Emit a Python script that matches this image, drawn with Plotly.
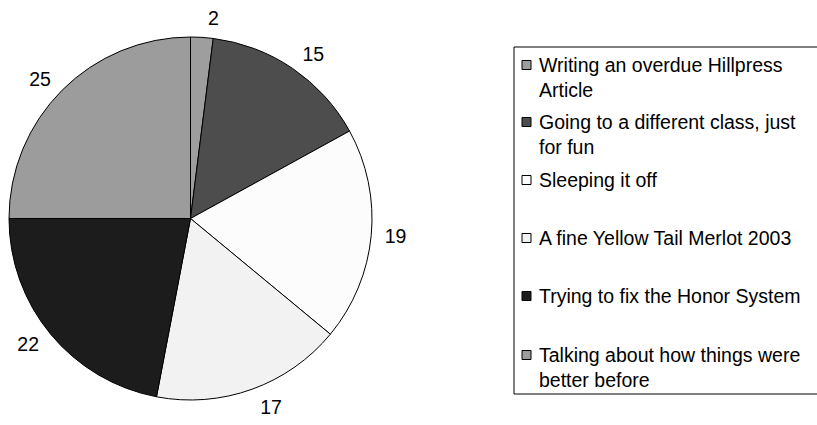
import plotly.graph_objects as go

labels = [
    "Writing an overdue Hillpress<br>Article",
    "Going to a different class, just<br>for fun",
    "Sleeping it off",
    "A fine Yellow Tail Merlot 2003",
    "Trying to fix the Honor System",
    "Talking about how things were<br>better before",
]
values = [2, 15, 19, 17, 22, 25]
colors = ["#9E9E9E", "#4D4D4D", "#FCFCFC", "#F2F2F2", "#1C1C1C", "#9C9C9C"]

W, H = 817, 425
FONT = "Liberation Sans, Arial, sans-serif"

fig = go.Figure()
# the visible pie
fig.add_trace(go.Pie(
    labels=labels, values=values, sort=False, direction="clockwise", rotation=0,
    marker=dict(colors=colors, line=dict(color="black", width=1)),
    textinfo="none",
    domain=dict(x=[8 / W, 373 / W], y=[25 / H, 388 / H]),
    showlegend=False, hoverinfo="label+value",
))
# a slightly larger, transparent pie that carries the value labels further out
fig.add_trace(go.Pie(
    labels=labels, values=values, sort=False, direction="clockwise", rotation=0,
    marker=dict(colors=["rgba(0,0,0,0)"] * len(values), line=dict(width=0)),
    textinfo="value", textposition="outside",
    textfont=dict(family=FONT, size=19.5, color="black"),
    domain=dict(x=[1 / W, 380 / W], y=[17 / H, 396 / H]),
    showlegend=False, hoverinfo="skip",
))

# manual legend box
lx0, ly0, lx1, ly1 = 514, 47, 830, 394
shapes = [dict(type="rect", xref="paper", yref="paper",
               x0=lx0 / W, x1=lx1 / W, y0=1 - ly1 / H, y1=1 - ly0 / H,
               line=dict(color="black", width=1), fillcolor="white", layer="below")]
annotations = []
item_y = [65, 122, 180, 238, 296, 355]
for lab, col, yc in zip(labels, colors, item_y):
    shapes.append(dict(type="rect", xref="paper", yref="paper",
                       x0=522 / W, x1=531 / W, y0=1 - (yc + 4.5) / H, y1=1 - (yc - 4.5) / H,
                       line=dict(color="black", width=1), fillcolor=col))
    annotations.append(dict(xref="paper", yref="paper", x=537 / W, y=1 - (yc - 13) / H,
                            xanchor="left", yanchor="top", align="left", showarrow=False,
                            text=lab, font=dict(family=FONT, size=19.5, color="black")))

fig.update_layout(
    width=W, height=H, margin=dict(l=0, r=0, t=0, b=0, autoexpand=False),
    paper_bgcolor="white", plot_bgcolor="white",
    shapes=shapes, annotations=annotations,
)
fig.write_html("out.html")
